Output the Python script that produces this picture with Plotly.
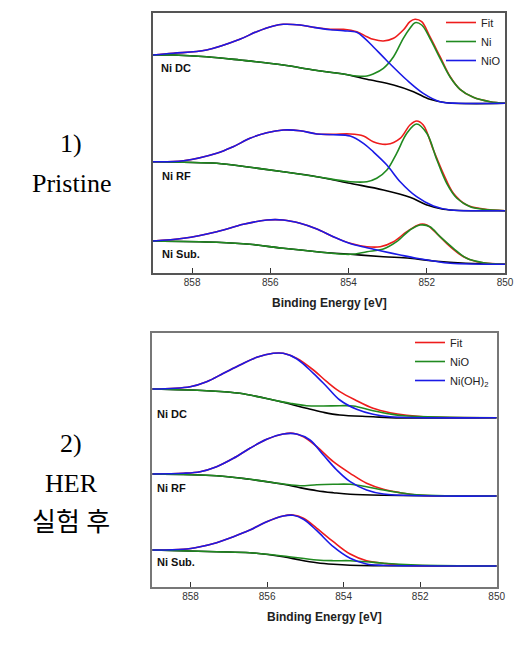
import plotly.graph_objects as go

# ---------------- DATA: binding energy (eV) vs intensity (a.u.) ----------------
# 1) Pristine  (components: Fit, Ni, NiO, background)
p_dc_fit_x = [859.0, 858.48, 857.63, 856.78, 856.35, 855.92, 855.67, 855.24, 854.90, 854.47, 854.13, 853.79, 853.53, 853.37, 853.11, 852.85, 852.60, 852.43, 852.30, 852.13, 851.92, 851.66, 851.40, 851.15, 850.81, 850.38, 850.0]
p_dc_fit_y = [217.7, 219.4, 222.7, 233.4, 241.0, 246.7, 248.4, 247.7, 245.4, 243.4, 243.4, 241.0, 236.0, 233.4, 231.7, 234.4, 242.7, 251.0, 253.4, 251.0, 236.0, 216.0, 196.0, 183.4, 175.4, 171.0, 169.4]
p_dc_ni_x = [859.0, 858.48, 857.63, 856.78, 855.67, 854.90, 854.13, 853.79, 853.53, 853.37, 853.11, 852.85, 852.60, 852.43, 852.30, 852.13, 851.92, 851.66, 851.40, 851.15, 850.81, 850.38, 850.0]
p_dc_ni_y = [217.7, 217.7, 216.0, 212.7, 207.7, 202.7, 198.7, 196.7, 196.7, 198.7, 204.4, 216.0, 234.4, 244.4, 250.0, 247.7, 234.4, 214.4, 195.4, 183.4, 175.4, 171.0, 169.4]
p_dc_nio_x = [859.0, 858.48, 857.63, 856.78, 856.35, 855.92, 855.67, 855.24, 854.90, 854.47, 854.13, 853.79, 853.58, 853.37, 853.02, 852.51, 852.09, 851.66, 851.2, 850.0]
p_dc_nio_y = [217.7, 219.4, 222.7, 233.4, 241.0, 246.7, 248.4, 247.7, 245.4, 243.0, 242.0, 240.4, 234.0, 226.0, 212.0, 192.7, 179.4, 171.0, 169.4, 169.4]
p_dc_bg_x = [859.0, 858.48, 857.63, 856.78, 855.67, 854.90, 854.13, 853.53, 852.85, 852.34, 851.92, 851.49, 850.0]
p_dc_bg_y = [217.7, 217.7, 216.0, 212.7, 207.7, 202.7, 198.7, 193.4, 187.7, 181.0, 173.4, 170.0, 169.4]

p_rf_fit_x = [859.0, 858.22, 857.37, 856.95, 856.52, 856.09, 855.67, 855.24, 854.81, 854.39, 853.96, 853.62, 853.37, 853.02, 852.68, 852.43, 852.26, 852.09, 851.83, 851.58, 851.32, 850.98, 850.55, 850.0]
p_rf_fit_y = [111.0, 112.0, 119.4, 126.0, 134.4, 140.0, 142.7, 142.0, 138.7, 138.4, 138.7, 136.7, 131.0, 128.4, 134.4, 147.7, 151.7, 147.7, 122.7, 99.4, 79.4, 67.7, 63.7, 62.0]
p_rf_ni_x = [859.0, 858.22, 857.37, 856.52, 855.67, 854.81, 853.96, 853.53, 853.28, 853.02, 852.77, 852.51, 852.26, 852.0, 851.74, 851.49, 851.23, 850.89, 850.55, 850.0]
p_rf_ni_y = [111.0, 110.4, 109.4, 105.4, 101.0, 96.0, 91.0, 91.0, 94.4, 102.7, 119.4, 139.4, 148.7, 139.4, 112.7, 89.4, 74.4, 66.0, 63.4, 62.0]
p_rf_nio_x = [859.0, 858.22, 857.37, 856.95, 856.52, 856.09, 855.67, 855.24, 854.81, 854.39, 853.96, 853.62, 853.37, 853.02, 852.68, 852.26, 851.83, 851.40, 850.55, 850.0]
p_rf_nio_y = [111.0, 112.0, 119.4, 126.0, 134.4, 140.0, 142.7, 142.0, 138.7, 138.0, 136.7, 129.4, 121.0, 107.7, 91.0, 76.0, 66.7, 62.7, 62.0, 62.0]
p_rf_bg_x = [859.0, 858.22, 857.37, 856.52, 855.67, 854.81, 853.96, 853.11, 852.43, 852.0, 851.58, 850.0]
p_rf_bg_y = [111.0, 110.4, 109.4, 105.4, 101.0, 96.0, 89.4, 82.7, 75.4, 67.7, 63.4, 62.0]

p_sub_fit_x = [859.0, 858.22, 857.37, 856.69, 856.09, 855.67, 855.24, 854.81, 854.39, 853.96, 853.53, 853.19, 852.85, 852.51, 852.17, 852.0, 851.75, 851.40, 851.06, 850.72, 850.0]
p_sub_fit_y = [31.7, 34.4, 41.0, 48.4, 52.7, 52.7, 49.4, 43.7, 36.0, 29.4, 26.0, 26.0, 31.0, 41.0, 48.4, 47.7, 39.4, 26.0, 16.0, 11.0, 8.4]
p_sub_ni_x = [859.0, 857.37, 856.52, 855.67, 854.81, 853.96, 853.53, 853.11, 852.77, 852.43, 852.17, 851.92, 851.66, 851.32, 850.98, 850.55, 850.0]
p_sub_ni_y = [31.7, 30.4, 28.4, 24.4, 21.0, 18.4, 21.0, 23.7, 31.0, 42.7, 47.7, 46.0, 36.0, 24.4, 14.4, 10.0, 8.4]
p_sub_nio_x = [859.0, 858.22, 857.37, 856.69, 856.09, 855.67, 855.24, 854.81, 854.39, 853.96, 853.53, 853.19, 852.68, 852.26, 851.83, 851.40, 850.0]
p_sub_nio_y = [31.7, 34.4, 41.0, 48.4, 52.7, 52.7, 49.4, 43.7, 36.0, 29.2, 25.0, 22.0, 17.7, 14.4, 11.7, 9.4, 8.4]
p_sub_bg_x = [859.0, 857.37, 856.52, 855.67, 854.81, 853.96, 853.11, 852.43, 851.83, 851.0, 850.0]
p_sub_bg_y = [31.7, 30.4, 28.4, 24.4, 21.0, 18.4, 16.0, 14.4, 11.7, 9.4, 8.4]

# 2) After HER test  (components: Fit, NiO, Ni(OH)2, background)
h_dc_fit_x = [859.0, 858.01, 857.58, 857.14, 856.71, 856.27, 855.84, 855.58, 855.23, 854.79, 854.44, 854.10, 853.66, 853.23, 852.79, 852.35, 851.92, 850.0]
h_dc_fit_y = [197.7, 200.0, 205.0, 213.4, 221.7, 229.4, 233.4, 233.4, 228.4, 216.7, 205.0, 195.0, 186.0, 178.4, 174.0, 171.4, 170.0, 169.0]
h_dc_nio_x = [859.0, 857.58, 856.71, 855.84, 855.40, 854.97, 854.53, 854.10, 853.75, 853.23, 852.79, 852.35, 850.0]
h_dc_nio_y = [197.7, 196.0, 193.4, 186.7, 183.4, 181.0, 180.7, 181.0, 180.7, 176.0, 172.7, 170.7, 169.0]
h_dc_oh_x = [859.0, 858.01, 857.58, 857.14, 856.71, 856.27, 855.84, 855.58, 855.23, 854.79, 854.44, 854.10, 853.66, 853.23, 852.79, 850.0]
h_dc_oh_y = [197.7, 200.0, 205.0, 213.4, 221.7, 229.4, 233.4, 233.4, 228.0, 213.4, 200.0, 186.7, 177.4, 172.4, 170.0, 169.0]
h_dc_bg_x = [859.0, 857.58, 856.71, 855.84, 855.40, 854.97, 854.53, 854.10, 853.23, 852.79, 850.0]
h_dc_bg_y = [197.7, 196.0, 193.4, 186.7, 182.7, 178.4, 174.4, 171.7, 170.0, 169.0, 169.0]

h_rf_fit_x = [859.0, 858.19, 857.75, 857.32, 856.88, 856.45, 856.01, 855.58, 855.32, 855.05, 854.70, 854.27, 853.83, 853.40, 852.96, 852.52, 852.09, 850.0]
h_rf_fit_y = [112.7, 113.4, 115.0, 120.0, 128.4, 138.4, 147.4, 152.7, 153.4, 150.0, 140.0, 125.0, 113.4, 103.4, 97.4, 94.0, 91.7, 90.7]
h_rf_nio_x = [859.0, 857.32, 856.45, 855.58, 855.14, 854.70, 854.27, 853.83, 853.40, 852.96, 852.52, 852.09, 850.0]
h_rf_nio_y = [112.7, 111.0, 107.4, 102.7, 101.0, 102.0, 102.4, 102.4, 100.0, 96.7, 94.0, 92.0, 90.7]
h_rf_oh_x = [859.0, 858.19, 857.75, 857.32, 856.88, 856.45, 856.01, 855.58, 855.23, 854.88, 854.53, 854.18, 853.83, 853.40, 852.96, 850.0]
h_rf_oh_y = [112.7, 113.4, 115.0, 120.0, 128.4, 138.4, 147.4, 152.7, 152.7, 146.7, 131.7, 116.7, 105.0, 96.7, 92.7, 90.7]
h_rf_bg_x = [859.0, 857.32, 856.45, 855.58, 855.14, 854.70, 854.27, 853.83, 852.96, 850.0]
h_rf_bg_y = [112.7, 111.0, 107.4, 102.4, 99.0, 96.0, 94.0, 92.4, 91.4, 90.7]

h_sub_fit_x = [859.0, 858.19, 857.75, 857.32, 856.88, 856.45, 856.01, 855.58, 855.32, 855.05, 854.70, 854.27, 853.83, 853.40, 852.96, 852.52, 850.0]
h_sub_fit_y = [36.7, 37.4, 40.0, 44.0, 50.0, 56.7, 65.0, 70.7, 71.7, 68.4, 58.4, 45.0, 32.7, 26.0, 23.4, 21.7, 20.7]
h_sub_nio_x = [859.0, 857.32, 856.45, 855.58, 854.70, 854.27, 853.83, 853.40, 852.96, 852.09, 850.0]
h_sub_nio_y = [36.7, 35.0, 34.0, 30.7, 26.7, 26.0, 26.0, 25.0, 23.4, 21.7, 20.7]
h_sub_oh_x = [859.0, 858.19, 857.75, 857.32, 856.88, 856.45, 856.01, 855.58, 855.32, 855.05, 854.70, 854.27, 853.83, 853.40, 852.96, 850.0]
h_sub_oh_y = [36.7, 37.4, 40.0, 44.0, 50.0, 56.7, 65.0, 70.7, 71.4, 67.4, 56.0, 40.0, 28.4, 22.7, 21.4, 20.7]
h_sub_bg_x = [859.0, 857.32, 856.45, 855.58, 855.14, 854.70, 854.27, 853.83, 852.96, 850.0]
h_sub_bg_y = [36.7, 35.0, 34.0, 30.0, 26.7, 24.0, 22.4, 21.4, 21.0, 20.7]

tick_vals = [858, 856, 854, 852, 850]
tick_text = ["858", "856", "854", "852", "850"]
sample_labels = ["Ni DC", "Ni RF", "Ni Sub."]
top_names = ["Fit", "Ni", "NiO"]
bot_names = ["Fit", "NiO", "Ni(OH)<sub>2</sub>"]
x_title = "Binding Energy [eV]"

# ---------------- FIGURE ----------------
# The page body has an 8px margin on every side: size the figure so the page fits the window.
OFF = 8
W, H = 529 - 2 * OFF, 645 - 2 * OFF
RED, GREEN, BLUE, BLACK = "#ee1c1c", "#208a20", "#1a1ae6", "#000000"

fig = go.Figure()

def add_spectrum(bg, fit, c1, c2, axis, legend, names, first):
    xa, ya = axis
    fig.add_trace(go.Scatter(x=bg[0], y=bg[1], mode="lines", line=dict(color=BLACK, width=1.6, shape="spline"),
                             xaxis=xa, yaxis=ya, showlegend=False, hoverinfo="skip"))
    for (xs, ys), col, nm in [(fit, RED, names[0]), (c1, GREEN, names[1]), (c2, BLUE, names[2])]:
        fig.add_trace(go.Scatter(x=xs, y=ys, mode="lines", name=nm,
                                 line=dict(color=col, width=1.6, shape="spline"),
                                 xaxis=xa, yaxis=ya, legend=legend, showlegend=first))

top = ("x", "y")
bot = ("x2", "y2")
add_spectrum((p_dc_bg_x, p_dc_bg_y), (p_dc_fit_x, p_dc_fit_y), (p_dc_ni_x, p_dc_ni_y), (p_dc_nio_x, p_dc_nio_y), top, "legend", top_names, True)
add_spectrum((p_rf_bg_x, p_rf_bg_y), (p_rf_fit_x, p_rf_fit_y), (p_rf_ni_x, p_rf_ni_y), (p_rf_nio_x, p_rf_nio_y), top, "legend", top_names, False)
add_spectrum((p_sub_bg_x, p_sub_bg_y), (p_sub_fit_x, p_sub_fit_y), (p_sub_ni_x, p_sub_ni_y), (p_sub_nio_x, p_sub_nio_y), top, "legend", top_names, False)
add_spectrum((h_dc_bg_x, h_dc_bg_y), (h_dc_fit_x, h_dc_fit_y), (h_dc_nio_x, h_dc_nio_y), (h_dc_oh_x, h_dc_oh_y), bot, "legend2", bot_names, True)
add_spectrum((h_rf_bg_x, h_rf_bg_y), (h_rf_fit_x, h_rf_fit_y), (h_rf_nio_x, h_rf_nio_y), (h_rf_oh_x, h_rf_oh_y), bot, "legend2", bot_names, False)
add_spectrum((h_sub_bg_x, h_sub_bg_y), (h_sub_fit_x, h_sub_fit_y), (h_sub_nio_x, h_sub_nio_y), (h_sub_oh_x, h_sub_oh_y), bot, "legend2", bot_names, False)

def px(x):
    return (x - OFF) / W

def py(y):
    return 1 - (y - OFF) / H

tickfont = dict(family="Arial, Liberation Sans, sans-serif", size=10, color="#333333")

def xaxis_cfg(dom, anchor, lc):
    return dict(domain=dom, anchor=anchor, range=[859, 850], showgrid=False, zeroline=False,
                showline=True, mirror=True, linecolor=lc, linewidth=1.5,
                ticks="inside", ticklen=5, tickwidth=1, tickcolor="#333333",
                tickvals=tick_vals, ticktext=tick_text, tickfont=tickfont)

def yaxis_cfg(dom, anchor, rng, lc):
    return dict(domain=dom, anchor=anchor, range=rng, showgrid=False, zeroline=False,
                showline=True, mirror=True, linecolor=lc, linewidth=1.5,
                ticks="", showticklabels=False)

legfont = dict(family="Arial, Liberation Sans, sans-serif", size=11, color="#222222")

fig.update_layout(
    width=W, height=H, margin=dict(l=0, r=0, t=0, b=0, autoexpand=False),
    paper_bgcolor="white", plot_bgcolor="white",
    xaxis=xaxis_cfg([px(153), px(505)], "y", "#555555"),
    yaxis=yaxis_cfg([py(272.7), py(13)], "x", [0, 259.7], "#555555"),
    xaxis2=xaxis_cfg([px(152.3), px(496.7)], "y2", "#777777"),
    yaxis2=yaxis_cfg([py(586.7), py(333.3)], "x2", [0, 253.4], "#777777"),
    legend=dict(x=px(441), y=py(8), xanchor="left", yanchor="top", font=legfont,
                bgcolor="rgba(0,0,0,0)", itemwidth=30, tracegroupgap=0),
    legend2=dict(x=px(410), y=py(328), xanchor="left", yanchor="top", font=legfont,
                 bgcolor="rgba(0,0,0,0)", itemwidth=30, tracegroupgap=0),
    showlegend=True,
)

lab_font = dict(family="Arial, Liberation Sans, sans-serif", size=11, color="#111111")
ann = []
for lbl, (x, y) in zip(sample_labels, [(159, 68.3), (160, 175.7), (160, 254.3)]):
    ann.append(dict(text="<b>%s</b>" % lbl, x=px(x), y=py(y), xref="paper", yref="paper",
                    xanchor="left", yanchor="middle", showarrow=False, font=lab_font))
for lbl, (x, y) in zip(sample_labels, [(155, 414.3), (155, 487.7), (155, 561.7)]):
    ann.append(dict(text="<b>%s</b>" % lbl, x=px(x), y=py(y), xref="paper", yref="paper",
                    xanchor="left", yanchor="middle", showarrow=False, font=lab_font))

title_font = dict(family="Arial, Liberation Sans, sans-serif", size=12, color="#222222")
for x, y in [(329, 303.3), (324.5, 617.3)]:
    ann.append(dict(text="<b>%s</b>" % x_title, x=px(x), y=py(y), xref="paper", yref="paper",
                    xanchor="center", yanchor="middle", showarrow=False, font=title_font))

side_font = dict(family="Liberation Serif, Times New Roman, Noto Sans CJK KR, serif", size=26, color="#000000")
for txt, y in [("1)", 143.3), ("Pristine", 183.3), ("2)", 443), ("HER", 483), ("실험 후", 522)]:
    ann.append(dict(text=txt, x=px(71), y=py(y), xref="paper", yref="paper",
                    xanchor="center", yanchor="middle", showarrow=False, font=side_font))

fig.update_layout(annotations=ann)
fig.write_html("out.html")
